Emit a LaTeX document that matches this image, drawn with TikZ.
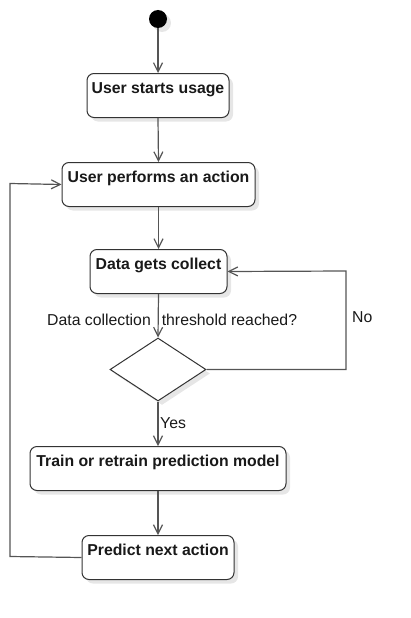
\documentclass[tikz,border=0pt]{standalone}
\usepackage{fontspec}
\setmainfont{Liberation Sans}
\usetikzlibrary{arrows.meta,shapes.geometric,shadows}
\definecolor{linegray}{HTML}{555555}
\definecolor{boxgray}{HTML}{333333}
\definecolor{shadowgray}{HTML}{E6E6E6}
\begin{document}
\begin{tikzpicture}[x=1pt,y=-1pt,
  every node/.style={font=\fontsize{15.8}{18}\selectfont, text=black!90},
  actbox/.style={draw=boxgray, line width=1pt, rounded corners=7pt, fill=white,
    inner xsep=2pt, inner ysep=4pt, text height=16pt, text depth=20pt,
    minimum height=44pt, anchor=north, font=\fontsize{15.8}{18}\selectfont\bfseries,
    drop shadow={shadow xshift=4pt, shadow yshift=-4pt, fill=shadowgray, opacity=1}},
  flow/.style={draw=linegray, line width=1.2pt, -{Straight Barb[length=9pt,width=9pt]}},
  plain/.style={draw=linegray, line width=1.2pt}
]
\useasboundingbox (0,0) rectangle (410,618);
\node[circle, fill=black, minimum size=18pt, inner sep=0pt,
  drop shadow={shadow xshift=4pt, shadow yshift=-4pt, fill=shadowgray, opacity=1}] (start) at (158,19) {};
\node[actbox, minimum width=142pt] (b1) at (158,73) {User starts usage};
\node[actbox, minimum width=193pt] (b2) at (158.5,162) {User performs an action};
\node[actbox, minimum width=137pt] (b3) at (158.5,249) {Data gets collect};
\node[diamond, draw=boxgray, line width=1pt, fill=white, aspect=1.52, minimum width=96pt, minimum height=63pt, inner sep=0pt,
  drop shadow={shadow xshift=4pt, shadow yshift=-4pt, fill=shadowgray, opacity=1}] (d) at (158,369.5) {};
\node[actbox, minimum width=256pt] (b4) at (158,446) {Train or retrain prediction model};
\node[actbox, minimum width=152pt] (b5) at (158,535) {Predict next action};

\coordinate (nr) at (346,369.5);
\coordinate (nt) at (346,271);
\coordinate (ll) at (10,556.5);
\coordinate (lt) at (10,183.5);

\draw[flow] (start) -- (b1.north);
\draw[flow] (b1.south) -- (b2.north);
\draw[flow] (b2.south) -- (b3.north);
\draw[flow] (b3.south) -- (d.north);
\draw[flow] (d.south) -- (b4.north);
\draw[flow] (b4.south) -- (b5.north);
\draw[flow] (d.east) -- (nr) -- (nt) -- (b3.east);
\draw[flow] (b5.west) -- (ll) -- (lt) -- (b2.west);

\node[anchor=base west, inner sep=0pt] (q) at (47,325) {Data collection\hspace{11pt}threshold reached?};
\node[anchor=base west, inner sep=0pt] (no) at (352,322) {No};
\node[anchor=base west, inner sep=0pt] (yes) at (160,428) {Yes};
\end{tikzpicture}
\end{document}
